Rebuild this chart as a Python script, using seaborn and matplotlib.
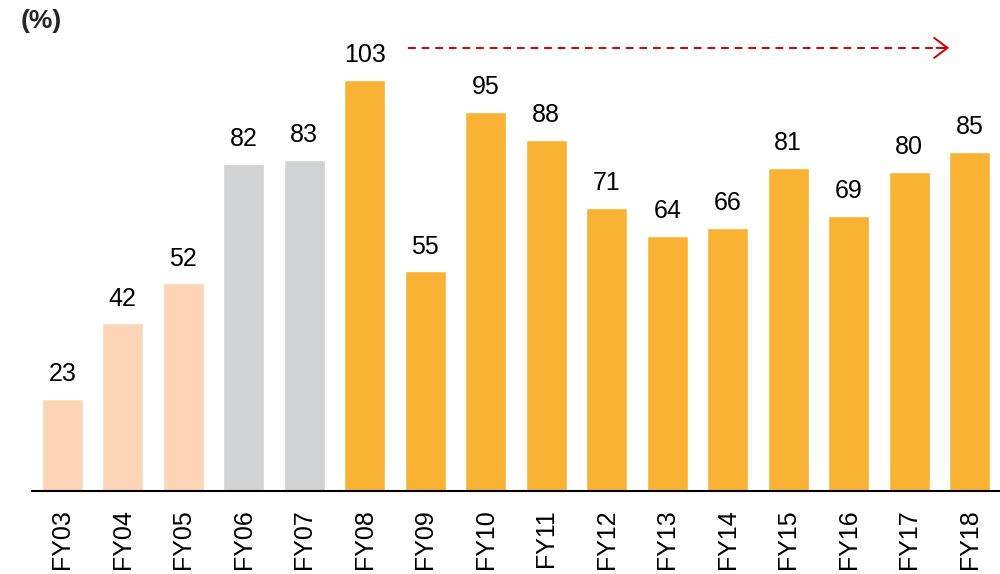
import matplotlib
matplotlib.use("Agg")
import matplotlib.pyplot as plt
import seaborn as sns
import pandas as pd

categories = ["FY03", "FY04", "FY05", "FY06", "FY07", "FY08", "FY09", "FY10",
              "FY11", "FY12", "FY13", "FY14", "FY15", "FY16", "FY17", "FY18"]
values = [23, 42, 52, 82, 83, 103, 55, 95, 88, 71, 64, 66, 81, 69, 80, 85]
groups = ["early"] * 3 + ["mid"] * 2 + ["late"] * 11
palette = {"early": "#FBD5B5", "mid": "#D1D2D4", "late": "#F9B233"}

sns.set_theme(style="white")
plt.rcParams["font.family"] = ["Liberation Sans", "DejaVu Sans"]

df = pd.DataFrame({"cat": categories, "val": values, "grp": groups})

fig = plt.figure(figsize=(10, 5.74), dpi=100)
ax = fig.add_axes([0.032, 0.1446, 0.968, 0.8554])
sns.barplot(data=df, x="cat", y="val", hue="grp", palette=palette, dodge=False,
            width=0.68, ax=ax, legend=False, saturation=1)

for i, v in enumerate(values):
    ax.text(i, v + 3.2, str(v), ha="center", va="bottom", fontsize=18, color="black")

ax.set_ylim(0, 123)
ax.set_xlim(-0.5, len(categories) - 0.5)
ax.set_xlabel("")
ax.set_ylabel("")
ax.set_yticks([])
for s in ["top", "right", "left"]:
    ax.spines[s].set_visible(False)
ax.spines["bottom"].set_color("black")
ax.spines["bottom"].set_linewidth(1.5)
ax.tick_params(axis="x", labelsize=18, rotation=90, length=0, pad=13, colors="black")

# dashed trend arrow
arrow_y = 111
ax.plot([5.72, 14.62], [arrow_y, arrow_y], color="#D40000", lw=1.4,
        linestyle=(0, (4, 3)), solid_capstyle="butt")
ax.annotate("", xy=(14.66, arrow_y), xytext=(14.45, arrow_y),
            arrowprops=dict(arrowstyle="->,head_length=0.8,head_width=0.6",
                            color="#D40000", lw=1.4, shrinkA=0, shrinkB=0))

fig.text(0.021, 0.963, "(%)", fontsize=19, fontweight="bold", ha="left", va="center")

fig.savefig("out.png", dpi=100)
